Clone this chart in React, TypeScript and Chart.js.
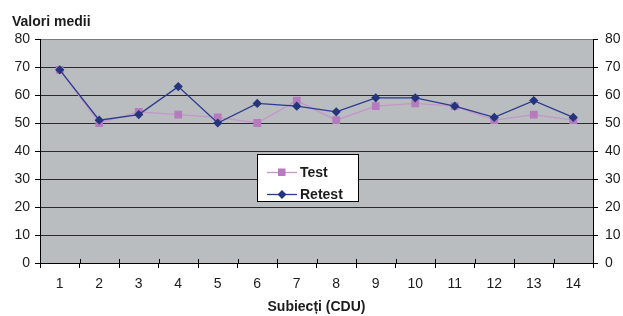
import React, { useEffect, useRef } from 'react';
import { Chart, registerables } from 'chart.js';

Chart.register(...registerables);

const categories = ['1', '2', '3', '4', '5', '6', '7', '8', '9', '10', '11', '12', '13', '14'];
const testValues = [69, 50, 54, 53, 52, 50, 58, 51, 56, 57, 56, 51, 53, 51];
const retestValues = [69, 51, 53, 63, 50, 57, 56, 54, 59, 59, 56, 52, 58, 52];
const seriesNames = ['Test', 'Retest'];
const yMin = 0;
const yMax = 80;
const yStep = 10;
const yAxisTitle = 'Valori medii';
const xAxisTitle = 'Subiecți (CDU)';

const FONT = '"Liberation Sans", Arial, sans-serif';
const TEST_LINE = '#C496CC';
const TEST_MARK = '#B67BBE';
const RETEST_LINE = '#2B3A8E';
const RETEST_MARK = '#25347F';
const PLOT_BG = '#B9BDBF';
const TEXT = '#1c1c1c';

const decorPlugin = {
  id: 'decor',
  beforeDraw(chart: any) {
    const { ctx, chartArea } = chart;
    ctx.save();
    ctx.fillStyle = '#FFFFFF';
    ctx.fillRect(0, 0, chart.width, chart.height);
    ctx.fillStyle = PLOT_BG;
    ctx.fillRect(chartArea.left, chartArea.top, chartArea.right - chartArea.left, chartArea.bottom - chartArea.top);
    ctx.restore();
  },
  afterDraw(chart: any) {
    const { ctx, chartArea } = chart;
    const xs = chart.scales.x;
    ctx.save();
    const step = xs.getPixelForValue(1) - xs.getPixelForValue(0);
    ctx.strokeStyle = '#000';
    ctx.lineWidth = 1;
    ctx.beginPath();
    for (let i = 0; i <= categories.length; i++) {
      const x = Math.round(xs.getPixelForValue(0) - step / 2 + i * step) + 0.5;
      ctx.moveTo(x, chartArea.bottom - 4);
      ctx.lineTo(x, chartArea.bottom);
    }
    ctx.stroke();

    ctx.fillStyle = TEXT;
    ctx.font = `bold 14px ${FONT}`;
    ctx.textBaseline = 'middle';
    ctx.textAlign = 'left';
    ctx.fillText(yAxisTitle, 12, 22);

    const lx = 257.5, ly = 154.5, lw = 101, lh = 47;
    ctx.fillStyle = '#FFFFFF';
    ctx.fillRect(lx, ly, lw, lh);
    ctx.strokeStyle = '#000';
    ctx.strokeRect(lx, ly, lw, lh);
    const rows = [
      { name: seriesNames[0], line: TEST_LINE, mark: TEST_MARK, y: 172, style: 'rect' },
      { name: seriesNames[1], line: RETEST_LINE, mark: RETEST_MARK, y: 194, style: 'diamond' },
    ];
    rows.forEach((r) => {
      ctx.strokeStyle = r.line;
      ctx.lineWidth = 1.3;
      ctx.beginPath();
      ctx.moveTo(267, r.y + 0.5);
      ctx.lineTo(297, r.y + 0.5);
      ctx.stroke();
      ctx.fillStyle = r.mark;
      ctx.beginPath();
      if (r.style === 'rect') {
        ctx.rect(278, r.y - 3.5, 7.5, 7.5);
      } else {
        ctx.moveTo(282, r.y - 4);
        ctx.lineTo(286.5, r.y + 0.5);
        ctx.lineTo(282, r.y + 5);
        ctx.lineTo(277.5, r.y + 0.5);
        ctx.closePath();
      }
      ctx.fill();
      ctx.fillStyle = TEXT;
      ctx.font = `bold 14px ${FONT}`;
      ctx.textAlign = 'left';
      ctx.textBaseline = 'middle';
      ctx.fillText(r.name, 300, r.y + 1);
    });
    ctx.restore();
  },
};

export default function App() {
  const ref = useRef<HTMLCanvasElement | null>(null);

  useEffect(() => {
    if (!ref.current) return;
    const tickFont = { family: FONT, size: 14 };
    const chart = new Chart(ref.current, {
      type: 'line',
      data: {
        labels: categories,
        datasets: [
          {
            label: seriesNames[0],
            data: testValues,
            borderColor: TEST_LINE,
            backgroundColor: TEST_MARK,
            pointBackgroundColor: TEST_MARK,
            pointBorderColor: TEST_MARK,
            pointBorderWidth: 0,
            pointStyle: 'rect',
            pointRadius: 5.5,
            borderWidth: 1.3,
            tension: 0,
            order: 1,
          },
          {
            label: seriesNames[1],
            data: retestValues,
            borderColor: RETEST_LINE,
            backgroundColor: RETEST_MARK,
            pointBackgroundColor: RETEST_MARK,
            pointBorderColor: RETEST_MARK,
            pointBorderWidth: 0,
            pointStyle: 'rectRot',
            pointRadius: 4.6,
            borderWidth: 1.3,
            tension: 0,
            order: 0,
          },
        ],
      },
      options: {
        responsive: false,
        animation: false,
        devicePixelRatio: 1,
        layout: { padding: { top: 39, left: 0, right: 0, bottom: 0 } },
        plugins: {
          legend: { display: false },
          tooltip: { enabled: false },
          title: { display: false },
        },
        scales: {
          x: {
            type: 'category',
            offset: true,
            grid: {
              offset: true,
              drawOnChartArea: false,
              drawTicks: true,
              tickLength: 5,
              tickColor: '#000',
              color: '#000',
            },
            border: { display: true, color: '#000', width: 1 },
            ticks: { font: tickFont, color: TEXT, padding: 8, maxRotation: 0, autoSkip: false },
            title: {
              display: true,
              text: xAxisTitle,
              font: { family: FONT, size: 14, weight: 'bold' },
              color: TEXT,
              padding: { top: 0, bottom: 0 },
            },
            afterFit: (s: any) => { s.height = 53; },
          },
          y: {
            position: 'left',
            min: yMin,
            max: yMax,
            ticks: { stepSize: yStep, font: tickFont, color: TEXT, padding: 5 },
            grid: {
              drawOnChartArea: true,
              drawTicks: true,
              tickLength: 5,
              tickColor: '#000',
              color: (c: any) => (c.tick && c.tick.value === yMax ? '#7a7a7a' : '#2a2a2a'),
              lineWidth: 1,
            },
            border: { display: true, color: '#000', width: 1 },
            afterFit: (s: any) => { s.width = 40; },
          },
          y2: {
            position: 'right',
            min: yMin,
            max: yMax,
            ticks: { stepSize: yStep, font: tickFont, color: TEXT, padding: 7 },
            grid: {
              drawOnChartArea: false,
              drawTicks: true,
              tickLength: 5,
              tickColor: '#000',
            },
            border: { display: true, color: '#000', width: 1 },
            afterFit: (s: any) => { s.width = 30; },
          },
        },
      },
      plugins: [decorPlugin],
    } as any);
    return () => chart.destroy();
  }, []);

  return (
    <div style={{ position: 'absolute', left: 0, top: 0, width: 623, height: 316 }}>
      <canvas ref={ref} width={623} height={316} style={{ display: 'block', width: 623, height: 316 }} />
    </div>
  );
}
